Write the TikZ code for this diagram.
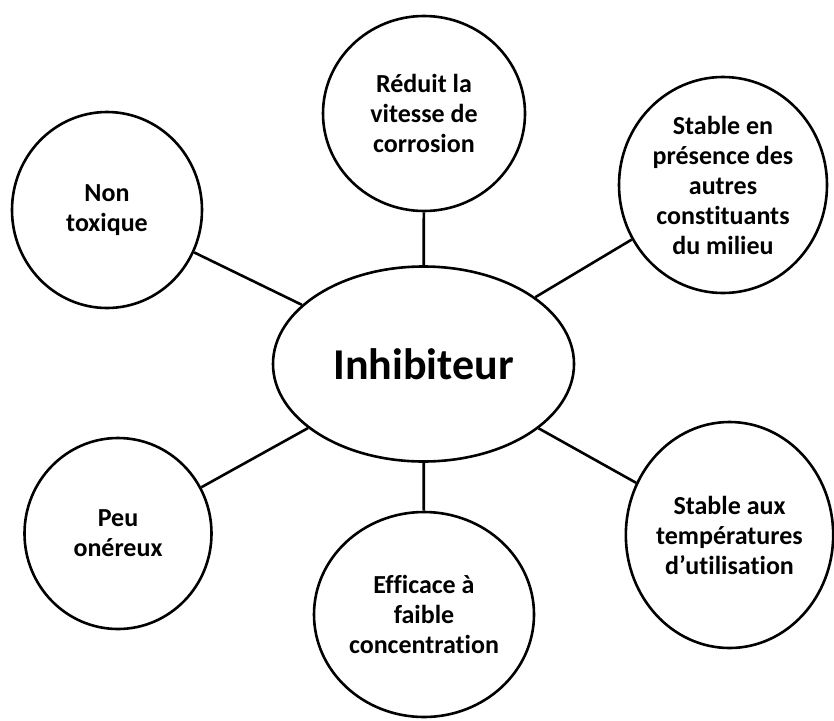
\documentclass[tikz,border=0pt]{standalone}
\usepackage{fontspec}
\setmainfont{Carlito}[Ligatures=NoCommon]
\usetikzlibrary{shapes.geometric}

\begin{document}
\begin{tikzpicture}[x=1pt,y=-1pt]

\tikzset{
    bulle/.style = {
    draw, line width=2.6pt, ellipse, inner sep=0pt,
    align=center, font=\bfseries\fontsize{26}{30}\selectfont
    }
}

\tikzstyle{centre}=[bulle, font=\bfseries\fontsize{44}{50}\selectfont]
\tikzstyle{lien}=[line width=2.6pt]

\useasboundingbox (0,0) rectangle (834,720);

\node (inh) [centre, minimum width=301pt, minimum height=195pt] at (423.5,364) {Inhibiteur};

\node (p-haut) [bulle, minimum width=202pt, minimum height=195pt] at (424,113.5) {Réduit la\\vitesse de\\corrosion};
\node (p-tox) [bulle, minimum width=190pt, minimum height=196pt] at (107,210) {Non\\toxique};
\node (p-milieu) [bulle, minimum width=208pt, minimum height=216pt] at (723,185) {Stable en\\présence des\\autres\\constituants\\du milieu};
\node (p-cout) [bulle, minimum width=187pt, minimum height=191pt] at (118,533.5) {Peu\\onéreux};
\node (p-eff) [bulle, minimum width=220pt, minimum height=205pt] at (424,614.5) {Efficace à\\faible\\concentration};
\node (p-temp) [bulle, minimum width=207pt, minimum height=226pt] at (729.5,535) {Stable aux\\températures\\d’utilisation};

% liens vers le centre
\draw[lien] (inh) -- (p-haut);
\draw[lien] (inh) -- (p-tox);
\draw[lien] (inh) -- (p-milieu);
\draw[lien] (inh) -- (p-cout);
\draw[lien] (inh) -- (p-eff);
\draw[lien] (inh) -- (p-temp);

\end{tikzpicture}
\end{document}
